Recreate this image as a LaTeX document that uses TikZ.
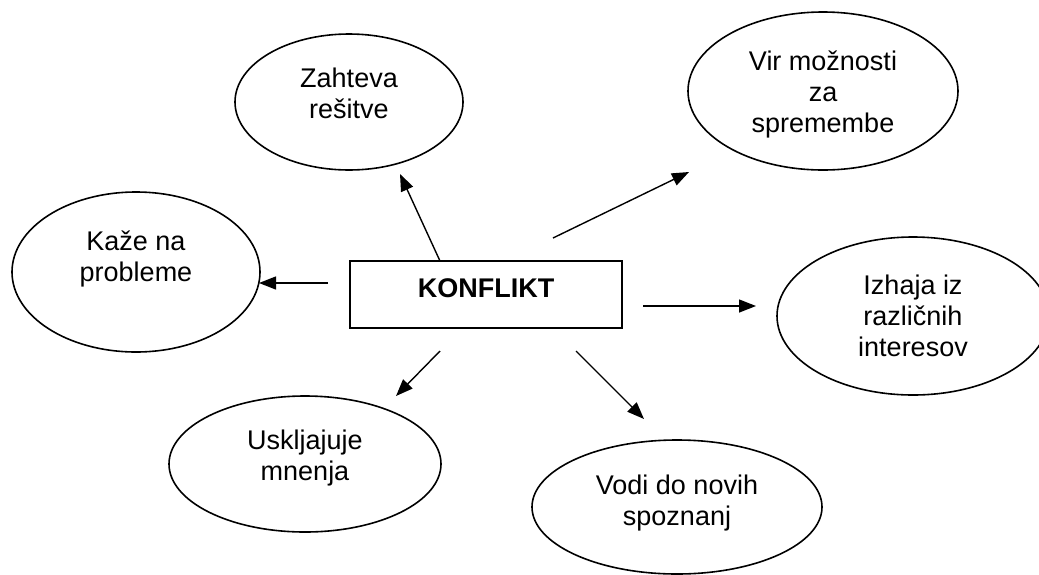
\documentclass[tikz,border=0pt]{standalone}
\usepackage{fontspec}
\setmainfont{Liberation Sans}
\usetikzlibrary{shapes.geometric,arrows.meta}
\begin{document}
\begin{tikzpicture}[x=1pt,y=-1pt,
  bubble/.style={draw, ellipse, line width=1.6pt, inner sep=0pt},
  centerbox/.style={draw, rectangle, line width=1.8pt, inner sep=0pt},
  caption/.style={align=center, inner sep=0pt, anchor=base,
    font=\fontsize{27}{31}\selectfont},
  link/.style={line width=1.4pt, -{Triangle[length=17pt,width=13pt]}}]
  \useasboundingbox (0,0) rectangle (1039,574);
  \clip (0,0) rectangle (1039,574);

  % outline shapes
  \node[centerbox, minimum width=272pt, minimum height=67pt] (core) at (486,294.5) {};
  \node[bubble, minimum width=228pt, minimum height=136pt] (demand) at (349,102) {};
  \node[bubble, minimum width=270pt, minimum height=158pt] (source) at (823,91) {};
  \node[bubble, minimum width=248pt, minimum height=160pt] (points) at (136,272) {};
  \node[bubble, minimum width=272pt, minimum height=158pt] (origin) at (913,316) {};
  \node[bubble, minimum width=272pt, minimum height=136pt] (align) at (305,464) {};
  \node[bubble, minimum width=290pt, minimum height=134pt] (leads) at (677,507) {};

  % texts (anchored at the baseline of the last line)
  \node[caption, font=\fontsize{27}{31}\selectfont\bfseries] (coretxt) at (486,297) {KONFLIKT};
  \node[caption] (demandtxt) at (349,118) {Zahteva\\rešitve};
  \node[caption] (sourcetxt) at (823,132) {Vir možnosti\\za\\spremembe};
  \node[caption] (pointstxt) at (136,281) {Kaže na\\probleme};
  \node[caption] (origintxt) at (913,356) {Izhaja iz\\različnih\\interesov};
  \node[caption] (aligntxt) at (305,480) {Uskljajuje\\mnenja};
  \node[caption] (leadstxt) at (677,525) {Vodi do novih\\spoznanj};

  % arrow ends
  \coordinate (t1) at (440,261); \coordinate (h1) at (400,174);
  \coordinate (t2) at (553,238); \coordinate (h2) at (689,172);
  \coordinate (t3) at (328,283); \coordinate (h3) at (259,283);
  \coordinate (t4) at (643,306); \coordinate (h4) at (756,306);
  \coordinate (t5) at (440,351); \coordinate (h5) at (396,396);
  \coordinate (t6) at (576,351); \coordinate (h6) at (644,419);

  \draw[link] (t1) -- (h1);
  \draw[link] (t2) -- (h2);
  \draw[link] (t3) -- (h3);
  \draw[link] (t4) -- (h4);
  \draw[link] (t5) -- (h5);
  \draw[link] (t6) -- (h6);
\end{tikzpicture}
\end{document}
